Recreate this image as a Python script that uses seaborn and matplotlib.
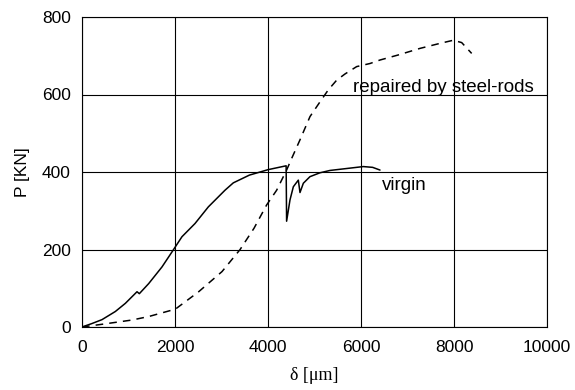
import matplotlib
matplotlib.use("Agg")
import matplotlib.pyplot as plt
import seaborn as sns
import pandas as pd

# Data
virgin_x = [0, 215, 430, 717, 932, 1183, 1233, 1434, 1720, 1964, 2150, 2430, 2717, 3075,
            3254, 3600, 3830, 4000, 4390, 4400, 4473, 4545, 4652, 4688, 4760, 4903, 5118,
            5333, 5692, 6050, 6250, 6409]
virgin_y = [0, 9, 19, 40, 61, 91, 86, 112, 155, 199, 233, 267, 310, 353,
            372, 392, 400, 406, 416, 273, 328, 362, 379, 347, 371, 388, 398,
            404, 409, 414, 412, 405]

repaired_x = [0, 430, 1075, 1434, 2007, 2509, 3011, 3400, 3700, 3971, 4186, 4400, 4509,
              4688, 4903, 5118, 5297, 5477, 5656, 5907, 6194, 6409, 6800, 7269, 7700,
              7985, 8165, 8380]
repaired_y = [0, 7, 18, 27, 46, 91, 143, 200, 255, 315, 353, 405, 435,
              483, 543, 581, 612, 637, 653, 672, 680, 689, 702, 719, 732,
              740, 734, 706]

x_ticks = [0, 2000, 4000, 6000, 8000, 10000]
y_ticks = [0, 200, 400, 600, 800]

sns.set_theme(style="whitegrid")
plt.rcParams['font.family'] = ['Liberation Sans', 'DejaVu Sans']

df_v = pd.DataFrame({"x": virgin_x, "y": virgin_y})
df_r = pd.DataFrame({"x": repaired_x, "y": repaired_y})

fig = plt.figure(figsize=(5.75, 3.9), dpi=100)
ax = fig.add_axes([82/575, 1 - 327/390, (547 - 82)/575, (327 - 17)/390])

sns.lineplot(data=df_v, x="x", y="y", sort=False, estimator=None, ax=ax,
             color="black", linewidth=1.1)
sns.lineplot(data=df_r, x="x", y="y", sort=False, estimator=None, ax=ax,
             color="black", linewidth=1.1, linestyle=(0, (5, 4)))

ax.set_xlim(0, 10000)
ax.set_ylim(0, 800)
ax.set_xticks(x_ticks)
ax.set_yticks(y_ticks)
ax.grid(True, color="black", linewidth=0.8)
for s in ax.spines.values():
    s.set_color("black")
    s.set_linewidth(0.8)
    s.set_visible(True)
ax.tick_params(axis="both", length=0, labelsize=12.5, colors="black")
ax.tick_params(axis="x", pad=9)
ax.tick_params(axis="y", pad=8)

ax.set_xlabel("δ [μm]", fontsize=13, family=["Liberation Serif", "DejaVu Serif"],
              color="black", labelpad=9)
ax.set_ylabel("P [KN]", fontsize=12.5, color="black", labelpad=9)

ax.text(5821, 619, "repaired by steel-rods", fontsize=13.5, va="center", ha="left",
        color="black")
ax.text(6445, 366, "virgin", fontsize=13.5, va="center", ha="left", color="black")

fig.savefig("out.png", dpi=100)
